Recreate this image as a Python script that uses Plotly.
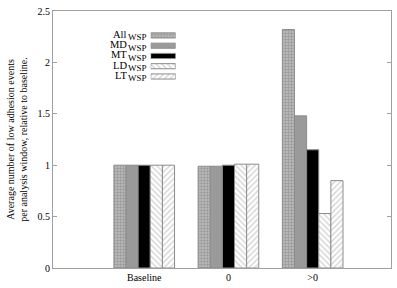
import plotly.graph_objects as go

categories = ["Baseline", "0", ">0"]
series_names = ["All", "MD", "MT", "LD", "LT"]
all_wsp = [1.00, 0.99, 2.32]
md_wsp = [1.00, 0.99, 1.48]
mt_wsp = [1.00, 1.00, 1.15]
ld_wsp = [1.00, 1.01, 0.53]
lt_wsp = [1.00, 1.01, 0.85]
y_ticks = [0, 0.5, 1, 1.5, 2, 2.5]
y_tick_labels = ["0", "0.5", "1", "1.5", "2", "2.5"]

values = [all_wsp, md_wsp, mt_wsp, ld_wsp, lt_wsp]
styles = [
    dict(color="#b4b4b4", pattern=dict(shape=".", fgcolor="#707070", bgcolor="#c0c0c0", size=3, solidity=0.5)),
    dict(color="#9a9a9a"),
    dict(color="#000000"),
    dict(color="white", pattern=dict(shape="\\", fgcolor="#a8a8a8", bgcolor="white", size=4, solidity=0.35)),
    dict(color="white", pattern=dict(shape="/", fgcolor="#a8a8a8", bgcolor="white", size=4, solidity=0.35)),
]

W, H = 397, 288
L, R, T, B = 53, 5, 6, 19
pw, ph = W - L - R, H - T - B

fig = go.Figure()
xs = list(range(len(categories)))
for name, vals, st in zip(series_names, values, styles):
    fig.add_trace(go.Bar(
        x=xs, y=vals, name=name, showlegend=False,
        marker=dict(line=dict(color="#8c8c8c", width=1), **st),
    ))

# legend swatches on a small secondary axis
for i, (name, st) in enumerate(zip(series_names, styles)):
    fig.add_trace(go.Bar(
        x=[1], y=[i], orientation="h", xaxis="x2", yaxis="y2", showlegend=False,
        marker=dict(line=dict(color="#8c8c8c", width=1), **st), width=0.5,
    ))

row_px = [31, 41.5, 52, 62.5, 73]
for name, py in zip(series_names, row_px):
    fig.add_annotation(
        x=(128.5 - L) / pw, y=(H - B - py) / ph, xref="paper", yref="paper",
        text=name, showarrow=False, xanchor="right", yanchor="middle",
        font=dict(family="Liberation Serif", size=10.5, color="black"),
        borderpad=0, yshift=1,
    )
    fig.add_annotation(
        x=(148 - L) / pw, y=(H - B - py) / ph, xref="paper", yref="paper",
        text="WSP", showarrow=False, xanchor="right", yanchor="middle",
        font=dict(family="Liberation Serif", size=9, color="black"),
        borderpad=0, yshift=-2,
    )

top_px = row_px[0] - 5.25
bot_px = row_px[-1] + 5.25
fig.update_layout(
    width=W, height=H,
    margin=dict(l=L, r=R, t=T, b=B, pad=0),
    paper_bgcolor="white", plot_bgcolor="white",
    barmode="group", bargap=0.28, bargroupgap=0,
    font=dict(family="Liberation Serif", size=10, color="black"),
    xaxis=dict(
        range=[-1.083, 2.93], tickvals=xs, ticktext=categories,
        showline=True, linecolor="#a0a0a0", linewidth=1, mirror=True,
        ticks="", showgrid=False, zeroline=False, tickfont=dict(size=10),
    ),
    yaxis=dict(
        range=[0, 2.5], tickvals=y_ticks, ticktext=y_tick_labels,
        showline=True, linecolor="#a0a0a0", linewidth=1, mirror="ticks",
        ticks="inside", ticklen=4, tickcolor="#a0a0a0",
        showgrid=False, zeroline=False, tickfont=dict(size=10),
        title=dict(text="Average number of low adhesion events<br>per analysis window, relative to baseline.",
                   font=dict(size=10), standoff=8),
    ),
    xaxis2=dict(domain=[(151 - L) / pw, (176 - L) / pw], range=[0, 1], visible=False, anchor="y2"),
    yaxis2=dict(domain=[(H - B - bot_px) / ph, (H - B - top_px) / ph], range=[4.5, -0.5],
                visible=False, anchor="x2"),
)

fig.write_html("out.html")
